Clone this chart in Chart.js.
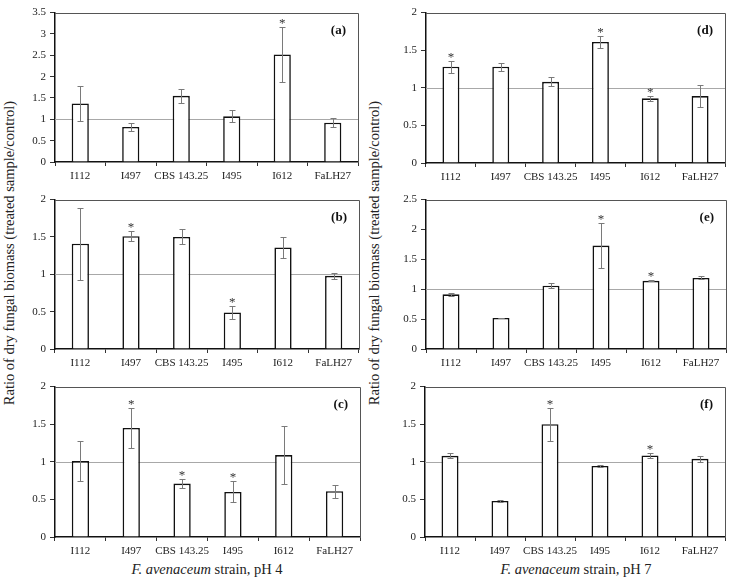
<!DOCTYPE html>
<html lang="en">
<head>
  <meta charset="UTF-8" />
  <title>Dry fungal biomass ratio</title>
  <script src="https://cdn.jsdelivr.net/npm/chart.js"></script>
  <style>
    body { margin: 0; background: #fff; }
    .wrap { position: relative; width: 735px; height: 581px; font-family: 'Liberation Serif', serif; color: #222; }
    canvas { position: absolute; }
    .ytitle {
      position: absolute; width: 340px; text-align: center; font-size: 14.5px;
      transform: translate(-50%, -50%) rotate(-90deg); white-space: nowrap;
    }
    .xtitle { position: absolute; width: 300px; text-align: center; font-size: 14.5px; transform: translateX(-50%); white-space: nowrap; }
  </style>
</head>
<body>
  <div class="wrap" id="wrap">
    <div class="ytitle" style="left:9px; top:253px;">Ratio of dry fungal biomass (treated sample/control)</div>
    <div class="ytitle" style="left:374px; top:253px;">Ratio of dry fungal biomass (treated sample/control)</div>
    <div class="xtitle" style="left:207px; top:561px;"><i>F. avenaceum</i> strain, pH 4</div>
    <div class="xtitle" style="left:576px; top:561px;"><i>F. avenaceum</i> strain, pH 7</div>
  </div>

  <script>
    const categories = ['I112', 'I497', 'CBS 143.25', 'I495', 'I612', 'FaLH27'];

    // pH 4
    const meanA = [1.37, 0.82, 1.55, 1.07, 2.52, 0.92];
    const errA  = [0.41, 0.10, 0.17, 0.14, 0.64, 0.10];
    const starA = [4];
    const meanB = [1.41, 1.51, 1.50, 0.49, 1.36, 0.98];
    const errB  = [0.48, 0.065, 0.10, 0.09, 0.145, 0.04];
    const starB = [1, 3];
    const meanC = [1.01, 1.45, 0.71, 0.60, 1.09, 0.61];
    const errC  = [0.26, 0.26, 0.055, 0.14, 0.38, 0.085];
    const starC = [1, 2, 3];

    // pH 7
    const meanD = [1.28, 1.28, 1.08, 1.61, 0.86, 0.89];
    const errD  = [0.08, 0.055, 0.06, 0.075, 0.03, 0.145];
    const starD = [0, 3, 4];
    const meanE = [0.915, 0.52, 1.06, 1.73, 1.14, 1.19];
    const errE  = [0.03, 0.005, 0.04, 0.375, 0.01, 0.025];
    const starE = [3, 4];
    const meanF = [1.08, 0.48, 1.50, 0.945, 1.085, 1.04];
    const errF  = [0.035, 0.01, 0.22, 0.01, 0.03, 0.04];
    const starF = [2, 4];

    const yMaxes = { a: 3.5, b: 2, c: 2, d: 2, e: 2.5, f: 2 };

    const FONT = "'Liberation Serif', serif";
    const PAD_L = 45, PAD_T = 10, PAD_R = 6, PAD_B = 30;

    // draws ref line at 1, error bars, stars, box and panel letter
    const extras = {
      id: 'extras',
      beforeDatasetsDraw(chart) {
        const { ctx, chartArea: a, scales: { y } } = chart;
        const py = Math.round(y.getPixelForValue(1)) + 0.5;
        ctx.save();
        ctx.strokeStyle = '#a8a8a8';
        ctx.lineWidth = 1;
        ctx.beginPath();
        ctx.moveTo(a.left, py);
        ctx.lineTo(a.right, py);
        ctx.stroke();
        ctx.restore();
      },
      afterDatasetsDraw(chart, args, opts) {
        const { ctx, chartArea: a, scales: { y } } = chart;
        const meta = chart.getDatasetMeta(0);
        const mean = chart.data.datasets[0].data;
        ctx.save();
        ctx.strokeStyle = '#7a7a7a';
        ctx.lineWidth = 1;
        meta.data.forEach((bar, i) => {
          const x = Math.round(bar.x) + 0.5;
          const hi = Math.round(y.getPixelForValue(mean[i] + opts.err[i])) + 0.5;
          const lo = Math.round(y.getPixelForValue(mean[i] - opts.err[i])) + 0.5;
          ctx.beginPath();
          ctx.moveTo(x, hi); ctx.lineTo(x, lo);
          ctx.moveTo(x - 3, hi); ctx.lineTo(x + 3, hi);
          ctx.moveTo(x - 3, lo); ctx.lineTo(x + 3, lo);
          ctx.stroke();
        });
        ctx.fillStyle = '#333';
        ctx.font = '13px ' + FONT;
        ctx.textAlign = 'center';
        ctx.textBaseline = 'alphabetic';
        opts.stars.forEach(i => {
          const bar = meta.data[i];
          const hi = y.getPixelForValue(mean[i] + opts.err[i]);
          ctx.fillText('*', bar.x, hi);
        });
        // top and right frame
        ctx.strokeStyle = '#555';
        ctx.beginPath();
        ctx.moveTo(a.left, Math.round(a.top) + 0.5);
        ctx.lineTo(Math.round(a.right) + 0.5, Math.round(a.top) + 0.5);
        ctx.lineTo(Math.round(a.right) + 0.5, a.bottom);
        ctx.stroke();
        ctx.fillStyle = '#111';
        ctx.font = 'bold 13px ' + FONT;
        ctx.textAlign = 'right';
        ctx.fillText('(' + opts.label + ')', a.right - 12, a.top + 21);
        ctx.restore();
      }
    };

    const panels = [
      { label: 'a', mean: meanA, err: errA, stars: starA, left: 55, right: 358, top: 12, bottom: 162 },
      { label: 'b', mean: meanB, err: errB, stars: starB, left: 55, right: 359, top: 199, bottom: 349 },
      { label: 'c', mean: meanC, err: errC, stars: starC, left: 55, right: 360, top: 386, bottom: 537 },
      { label: 'd', mean: meanD, err: errD, stars: starD, left: 426, right: 725, top: 12, bottom: 163 },
      { label: 'e', mean: meanE, err: errE, stars: starE, left: 426, right: 726, top: 199, bottom: 349 },
      { label: 'f', mean: meanF, err: errF, stars: starF, left: 425, right: 725, top: 386, bottom: 537 }
    ];

    const wrap = document.getElementById('wrap');

    panels.forEach(p => {
      const cv = document.createElement('canvas');
      const w = p.right - p.left + PAD_L + PAD_R;
      const h = p.bottom - p.top + PAD_T + PAD_B;
      cv.width = w; cv.height = h;
      cv.style.left = (p.left - PAD_L) + 'px';
      cv.style.top = (p.top - PAD_T) + 'px';
      cv.style.width = w + 'px';
      cv.style.height = h + 'px';
      wrap.appendChild(cv);

      new Chart(cv.getContext('2d'), {
        type: 'bar',
        data: {
          labels: categories,
          datasets: [{
            data: p.mean,
            backgroundColor: '#fff',
            borderColor: '#111',
            borderWidth: 1.6,
            borderSkipped: 'bottom',
            categoryPercentage: 1,
            barPercentage: 0.34
          }]
        },
        options: {
          responsive: false,
          animation: false,
          devicePixelRatio: 1,
          layout: { padding: { top: PAD_T, right: PAD_R, left: 0, bottom: 0 } },
          plugins: {
            legend: { display: false },
            tooltip: { enabled: false },
            extras: { err: p.err, stars: p.stars, label: p.label }
          },
          scales: {
            x: {
              afterFit: s => { s.height = PAD_B; },
              border: { color: '#111', width: 1.5 },
              grid: { offset: true, drawOnChartArea: false, tickLength: 4, color: '#333' },
              ticks: { color: '#222', padding: 4, maxRotation: 0, autoSkip: false, font: { family: FONT, size: 11 } }
            },
            y: {
              min: 0,
              max: yMaxes[p.label],
              afterFit: s => { s.width = PAD_L; },
              border: { color: '#111', width: 1.5 },
              grid: { drawOnChartArea: false, tickLength: 5, color: '#333' },
              ticks: {
                stepSize: 0.5,
                color: '#222',
                padding: 4,
                font: { family: FONT, size: 11 },
                callback: v => String(+v.toFixed(1))
              }
            }
          }
        },
        plugins: [extras]
      });
    });
  </script>
</body>
</html>
